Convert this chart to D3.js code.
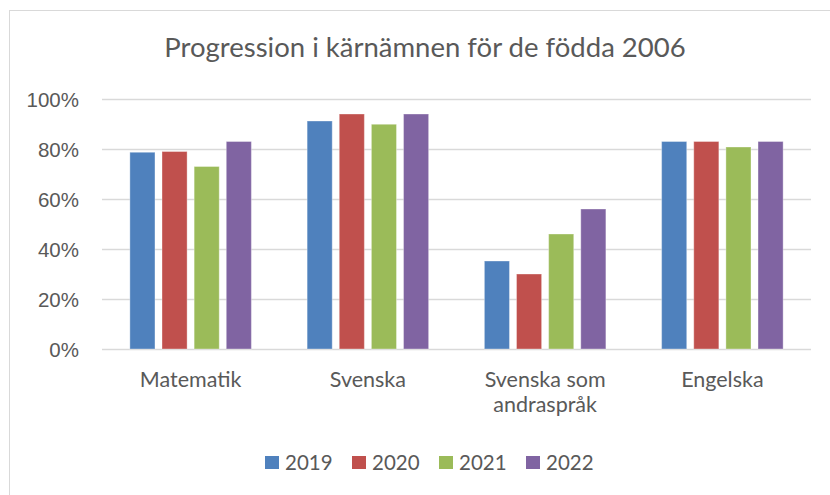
<!DOCTYPE html>
<html>
<head>
<meta charset="utf-8">
<script src="https://cdn.jsdelivr.net/npm/d3@7"></script>
<style>
  html, body { margin: 0; padding: 0; background: #fff; }
  svg { display: block; font-family: Lato, "Open Sans", sans-serif; }
</style>
</head>
<body>
<svg id="chart" width="830" height="495"></svg>
<script>
const categories = ['Matematik', 'Svenska', 'Svenska som andraspråk', 'Engelska'];
const categoryLines = [['Matematik'], ['Svenska'], ['Svenska som', 'andraspråk'], ['Engelska']];
const years = ['2019', '2020', '2021', '2022'];
const values2019 = [0.787, 0.912, 0.352, 0.83];
const values2020 = [0.79, 0.94, 0.30, 0.83];
const values2021 = [0.73, 0.899, 0.46, 0.808];
const values2022 = [0.83, 0.94, 0.56, 0.83];
const yTicks = [0, 0.2, 0.4, 0.6, 0.8, 1];
const colors = ['#4f81bd', '#c0504d', '#9bbb59', '#8064a2'];

const seriesValues = [values2019, values2020, values2021, values2022];
const textColor = '#595959';

const svg = d3.select('#chart');
const plot = { left: 102, right: 811, top: 99, bottom: 349 };

// chart frame (only top and left edges are inside the picture)
svg.append('rect')
  .attr('x', 9.5).attr('y', 10.5)
  .attr('width', 840).attr('height', 500)
  .attr('fill', 'none').attr('stroke', '#d9d9d9').attr('stroke-width', 1);

svg.append('text')
  .attr('x', 425).attr('y', 57)
  .attr('text-anchor', 'middle')
  .attr('fill', textColor)
  .style('font-size', '27.5px')
  .text('Progression i kärnämnen för de födda 2006');

const y = d3.scaleLinear().domain([0, 1]).range([plot.bottom, plot.top]);
const x = d3.scaleBand().domain(categories).range([plot.left, plot.right]);
const groupWidth = 121.5;
const xInner = d3.scaleBand().domain(years).range([0, groupWidth]).paddingInner(7 / 32);

const yAxis = d3.axisLeft(y)
  .tickValues(yTicks)
  .tickFormat(d3.format('.0%'))
  .tickSize(-(plot.right - plot.left))
  .tickPadding(23);

const axisG = svg.append('g')
  .attr('transform', `translate(${plot.left},0)`)
  .call(yAxis);
axisG.select('.domain').remove();
axisG.selectAll('.tick line').attr('stroke', '#d9d9d9').attr('stroke-width', 1.5);
axisG.selectAll('.tick text')
  .attr('fill', textColor)
  .attr('dy', '0.36em')
  .style('font-size', '20.5px');

const groups = svg.append('g')
  .selectAll('g')
  .data(categories)
  .join('g')
  .attr('transform', (d) => `translate(${x(d) + (x.bandwidth() - groupWidth) / 2},0)`);

groups.selectAll('rect')
  .data((d, i) => years.map((year, j) => ({ year, value: seriesValues[j][i], color: colors[j] })))
  .join('rect')
  .attr('x', (d) => xInner(d.year))
  .attr('y', (d) => y(d.value))
  .attr('width', xInner.bandwidth())
  .attr('height', (d) => y(0) - y(d.value))
  .attr('fill', (d) => d.color)
  .attr('stroke', 'rgba(255,255,255,0.35)')
  .attr('stroke-width', 1);

const catLabels = svg.append('g')
  .selectAll('text')
  .data(categories)
  .join('text')
  .attr('x', (d) => x(d) + x.bandwidth() / 2)
  .attr('y', 387)
  .attr('text-anchor', 'middle')
  .attr('fill', textColor)
  .style('font-size', '21.5px');

catLabels.selectAll('tspan')
  .data((d, i) => categoryLines[i])
  .join('tspan')
  .attr('x', function () { return this.parentNode.getAttribute('x'); })
  .attr('dy', (d, i) => (i === 0 ? 0 : 25))
  .text((d) => d);

const legend = svg.append('g')
  .selectAll('g')
  .data(years)
  .join('g')
  .attr('transform', (d, i) => `translate(${265 + i * 87},456)`);

legend.append('rect')
  .attr('width', 14).attr('height', 13)
  .attr('fill', (d, i) => colors[i]);

legend.append('text')
  .attr('x', 20).attr('y', 13.5)
  .attr('fill', textColor)
  .style('font-size', '20.5px')
  .text((d) => d);
</script>
</body>
</html>
